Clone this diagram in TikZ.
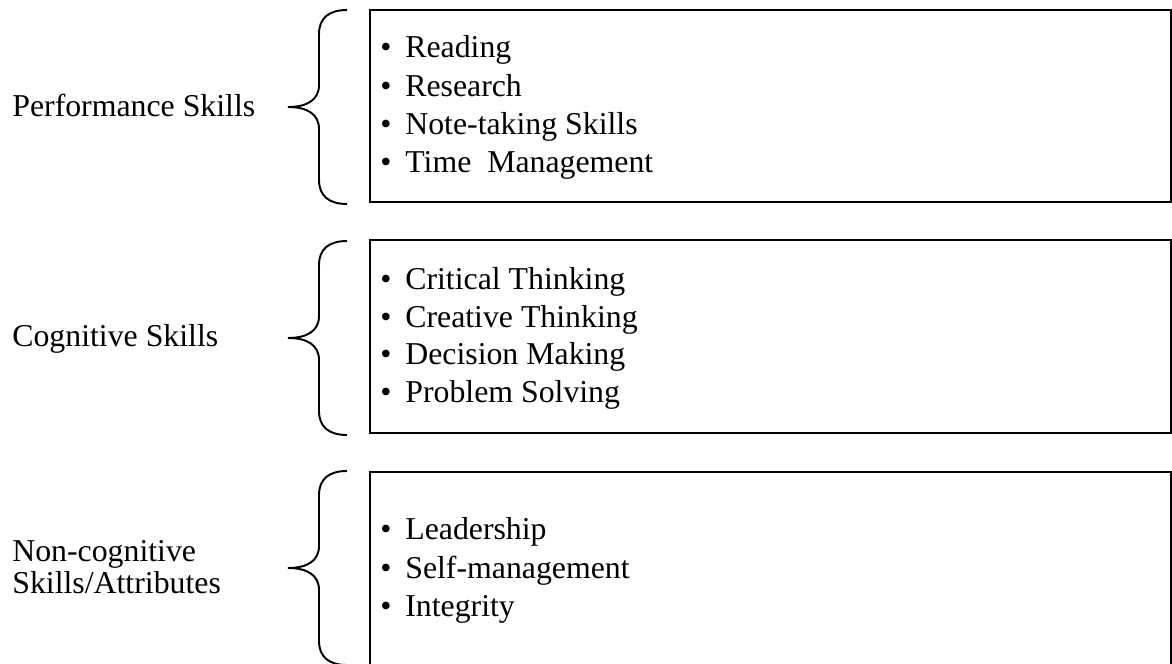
\documentclass[tikz,border=0pt]{standalone}
\usepackage{fontspec}
\setmainfont{Liberation Serif}
\usetikzlibrary{positioning}
\tikzset{
  skilltext/.style={anchor=base west, inner sep=0pt, font=\fontsize{18.1}{21.8}\selectfont},
  skillbox/.style={line width=1.1pt},
  % curly brace, drawn around its tip
  skillbrace/.pic={
    \draw[line width=1.1pt] (1.18,1.94) .. controls (0.82,1.94) and (0.62,1.78) .. (0.62,1.46)
      -- (0.62,0.44) .. controls (0.62,0.14) and (0.38,0) .. (0,0)
      .. controls (0.38,0) and (0.62,-0.14) .. (0.62,-0.44)
      -- (0.62,-1.46) .. controls (0.62,-1.78) and (0.82,-1.94) .. (1.18,-1.94);
  }
}
\newcommand{\bul}{\makebox[0.5cm][l]{\textbullet}}

\begin{document}
\begin{tikzpicture}
		\useasboundingbox (0,0) rectangle (23.44,13.28);
		\clip (0,0) rectangle (23.44,13.28);
		% group names
		\node[skilltext] (perf) at (0.24,10.94) {Performance Skills};
		\node[skilltext] (cog) at (0.24,6.34) {Cognitive Skills};
		\node[skilltext] (noncog) at (0.24,2.04) {Non-cognitive};
		\node[skilltext] (attr) at (0.24,1.40) {Skills/Attributes};
		% braces
		\pic at (5.76,11.14) {skillbrace};
		\pic at (5.76,6.52) {skillbrace};
		\pic at (5.76,1.92) {skillbrace};
		% boxes
		\draw[skillbox] (7.4,9.24) rectangle (23.42,13.08);
		\draw[skillbox] (7.4,4.62) rectangle (23.42,8.48);
		\draw[skillbox] (7.4,-0.5) rectangle (23.42,3.84);
		% lists
		\foreach \txt [count=\i] in {Reading, Research, Note-taking Skills, {Time\ \ Management}}
			\node[skilltext] (perf\i) at (7.6,{12.885-0.765*\i}) {\bul\txt};
		\foreach \txt [count=\i] in {Critical Thinking, Creative Thinking, Decision Making, Problem Solving}
			\node[skilltext] (cog\i) at (7.6,{8.245-0.755*\i}) {\bul\txt};
		\foreach \txt [count=\i] in {Leadership, Self-management, Integrity}
			\node[skilltext] (noncog\i) at (7.6,{3.25-0.77*\i}) {\bul\txt};
	\end{tikzpicture}
\end{document}
